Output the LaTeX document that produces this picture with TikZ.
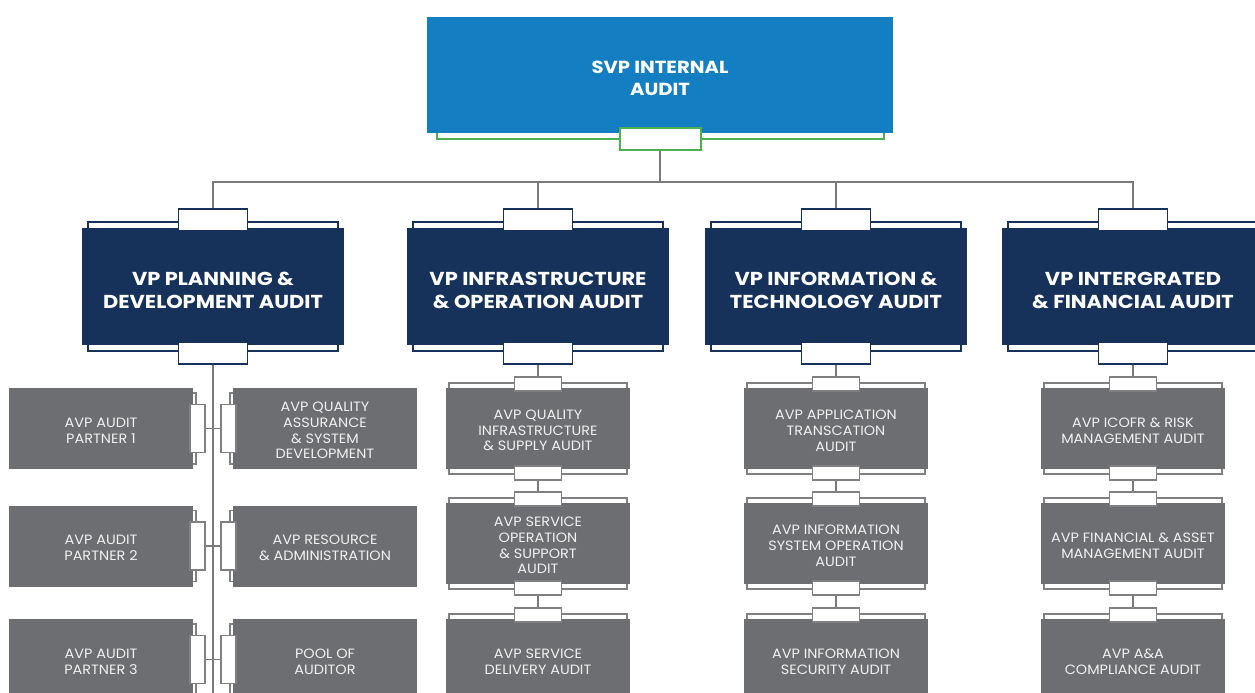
\documentclass[tikz,border=0pt]{standalone}
\usepackage{fontspec}
\setmainfont{Poppins}
\newfontfamily\widefont{Poppins}[FakeStretch=1.12]
\newfontfamily\avpfont{Poppins}[FakeStretch=1.07]
\definecolor{svpblue}{HTML}{137EC1}
\definecolor{svpgreen}{HTML}{4CB050}
\definecolor{navy}{HTML}{17325A}
\definecolor{avpgray}{HTML}{6D6E71}
\definecolor{tabgray}{HTML}{808083}
\definecolor{conncol}{HTML}{7A7A7D}
\definecolor{avptext}{HTML}{F0F0F0}
\newcommand\dimset[7]{%
  \pgfkeyssetvalue{/dims/#1/w}{#2}\pgfkeyssetvalue{/dims/#1/h}{#3}%
  \pgfkeyssetvalue{/dims/#1/i}{#4}\pgfkeyssetvalue{/dims/#1/e}{#5}%
  \pgfkeyssetvalue{/dims/#1/t}{#6}\pgfkeyssetvalue{/dims/#1/d}{#7}}
\dimset{vp}{262}{117}{6}{6}{8}{3.5}
\dimset{avp}{184}{81}{3}{5}{4}{2}
\dimset{avps}{184}{81}{5}{3}{4.5}{2}
% box with tabs on top and bottom
\newcommand\hbx[5]{%
  \edef\bxW{\pgfkeysvalueof{/dims/#4/w}}\edef\bxH{\pgfkeysvalueof{/dims/#4/h}}%
  \edef\bxI{\pgfkeysvalueof{/dims/#4/i}}\edef\bxE{\pgfkeysvalueof{/dims/#4/e}}%
  \edef\bxT{\pgfkeysvalueof{/dims/#4/t}}\edef\bxD{\pgfkeysvalueof{/dims/#4/d}}%
  \draw[#4out] ({#2-\bxW/2+\bxI},{#3-\bxH/2-\bxE}) rectangle ({#2+\bxW/2-\bxI},{#3+\bxH/2+\bxE});
  \node[#4box, minimum width=\bxW, minimum height=\bxH] (#1) at (#2,#3) {};
  \node[#4txt] (#1l) at (#2,{#3+\bxD}) {#5};
  \node[#4tab] (#1t) at (#2,{#3-\bxH/2-\bxT}) {};
  \node[#4tab] (#1b) at (#2,{#3+\bxH/2+\bxT}) {};
}
% box with one tab on a side (#4 = 1 right, -1 left)
\newcommand\sbx[5]{%
  \edef\bxW{\pgfkeysvalueof{/dims/avps/w}}\edef\bxH{\pgfkeysvalueof{/dims/avps/h}}%
  \edef\bxI{\pgfkeysvalueof{/dims/avps/i}}\edef\bxE{\pgfkeysvalueof{/dims/avps/e}}%
  \edef\bxT{\pgfkeysvalueof{/dims/avps/t}}\edef\bxD{\pgfkeysvalueof{/dims/avps/d}}%
  \draw[avpsout] (#2,{#3-\bxH/2+\bxI}) rectangle ({#2+(#4)*(\bxW/2+\bxE)},{#3+\bxH/2-\bxI});
  \node[avpsbox, minimum width=\bxW, minimum height=\bxH] (#1) at (#2,#3) {};
  \node[avpstxt] (#1l) at (#2,{#3+\bxD}) {#5};
  \node[avpstab] (#1t) at ({#2+(#4)*(\bxW/2+\bxT)},#3) {};
}
\begin{document}
\begin{tikzpicture}[x=1pt,y=-1pt,
  conn/.style={draw=conncol, line width=1.8},
  svpbox/.style={fill=svpblue, inner sep=0},
  svptxt/.style={text=white, align=center, inner sep=0,
    font=\widefont\bfseries\fontsize{17.5}{22}\selectfont},
  svpout/.style={draw=svpgreen, line width=1.8, fill=white},
  svptab/.style={draw=svpgreen, line width=2, fill=white, minimum width=81, minimum height=22, inner sep=0},
  vpbox/.style={fill=navy, inner sep=0},
  vptxt/.style={text=white, align=center, inner sep=0,
    font=\widefont\bfseries\fontsize{18.7}{23}\selectfont},
  vpout/.style={draw=navy, line width=1.6, fill=white},
  vptab/.style={draw=navy, line width=1.8, fill=white, minimum width=69, minimum height=22, inner sep=0},
  avpbox/.style={fill=avpgray, inner sep=0},
  avptxt/.style={text=avptext, align=center, inner sep=0,
    font=\avpfont\fontsize{13.5}{15.8}\selectfont},
  avpout/.style={draw=tabgray, line width=1.5, fill=white},
  avptab/.style={draw=tabgray, line width=1.6, fill=white, minimum width=47, minimum height=14, inner sep=0},
  avpsbox/.style={avpbox},
  avpstxt/.style={avptxt},
  avpsout/.style={avpout},
  avpstab/.style={draw=tabgray, line width=1.6, fill=white, minimum width=15, minimum height=48, inner sep=0},
]
\useasboundingbox (0,0) rectangle (1255,693);
\clip (0,0) rectangle (1255,693);

% SVP
\draw[svpout] (437,60) rectangle (884,139);
\node[svpbox, minimum width=466, minimum height=116] (svp) at (660,75) {};
\node[svptxt] (svpl) at (660,78.5) {SVP INTERNAL\\AUDIT};
\node[svptab] (svpb) at (660,139) {};

% VPs
\hbx{vpa}{213}{286.5}{vp}{VP PLANNING \&\\DEVELOPMENT AUDIT}
\hbx{vpb}{538}{286.5}{vp}{VP INFRASTRUCTURE\\\& OPERATION AUDIT}
\hbx{vpc}{836}{286.5}{vp}{VP INFORMATION \&\\TECHNOLOGY AUDIT}
\hbx{vpd}{1133}{286.5}{vp}{VP INTERGRATED\\\& FINANCIAL AUDIT}

% column 1
\sbx{la}{101}{428.5}{1}{AVP AUDIT\\PARTNER 1}
\sbx{ra}{325}{428.5}{-1}{AVP QUALITY\\ASSURANCE\\\& SYSTEM\\DEVELOPMENT}
\sbx{lb}{101}{546}{1}{AVP AUDIT\\PARTNER 2}
\sbx{rb}{325}{546}{-1}{AVP RESOURCE\\\& ADMINISTRATION}
\sbx{lc}{101}{659.5}{1}{AVP AUDIT\\PARTNER 3}
\sbx{rc}{325}{659.5}{-1}{POOL OF\\AUDITOR}

% column 2
\hbx{ba}{538}{428.5}{avp}{AVP QUALITY\\INFRASTRUCTURE\\\& SUPPLY AUDIT}
\hbx{bb}{538}{543.5}{avp}{AVP SERVICE\\OPERATION\\\& SUPPORT\\AUDIT}
\hbx{bc}{538}{659.5}{avp}{AVP SERVICE\\DELIVERY AUDIT}

% column 3
\hbx{ca}{836}{428.5}{avp}{AVP APPLICATION\\TRANSCATION\\AUDIT}
\hbx{cb}{836}{543.5}{avp}{AVP INFORMATION\\SYSTEM OPERATION\\AUDIT}
\hbx{cc}{836}{659.5}{avp}{AVP INFORMATION\\SECURITY AUDIT}

% column 4
\hbx{da}{1133}{428.5}{avp}{AVP ICOFR \& RISK\\MANAGEMENT AUDIT}
\hbx{db}{1133}{543.5}{avp}{AVP FINANCIAL \& ASSET\\MANAGEMENT AUDIT}
\hbx{dc}{1133}{659.5}{avp}{AVP A\&A\\COMPLIANCE AUDIT}

% connectors
\coordinate (bus) at (660,182);
\coordinate (c1end) at (213,700);
\draw[conn] (svpb.south) -- (svpb.south |- bus);
\draw[conn] (vpat.north) -- (vpat.north |- bus) -- (vpdt.north |- bus) -- (vpdt.north);
\draw[conn] (vpbt.north) -- (vpbt.north |- bus);
\draw[conn] (vpct.north) -- (vpct.north |- bus);
\draw[conn] (vpab.south) -- (c1end);
\draw[conn] (lat.east) -- (rat.west);
\draw[conn] (lbt.east) -- (rbt.west);
\draw[conn] (lct.east) -- (rct.west);
\draw[conn] (vpbb.south) -- (bat.north);
\draw[conn] (bab.south) -- (bbt.north);
\draw[conn] (bbb.south) -- (bct.north);
\draw[conn] (vpcb.south) -- (cat.north);
\draw[conn] (cab.south) -- (cbt.north);
\draw[conn] (cbb.south) -- (cct.north);
\draw[conn] (vpdb.south) -- (dat.north);
\draw[conn] (dab.south) -- (dbt.north);
\draw[conn] (dbb.south) -- (dct.north);
\end{tikzpicture}
\end{document}
